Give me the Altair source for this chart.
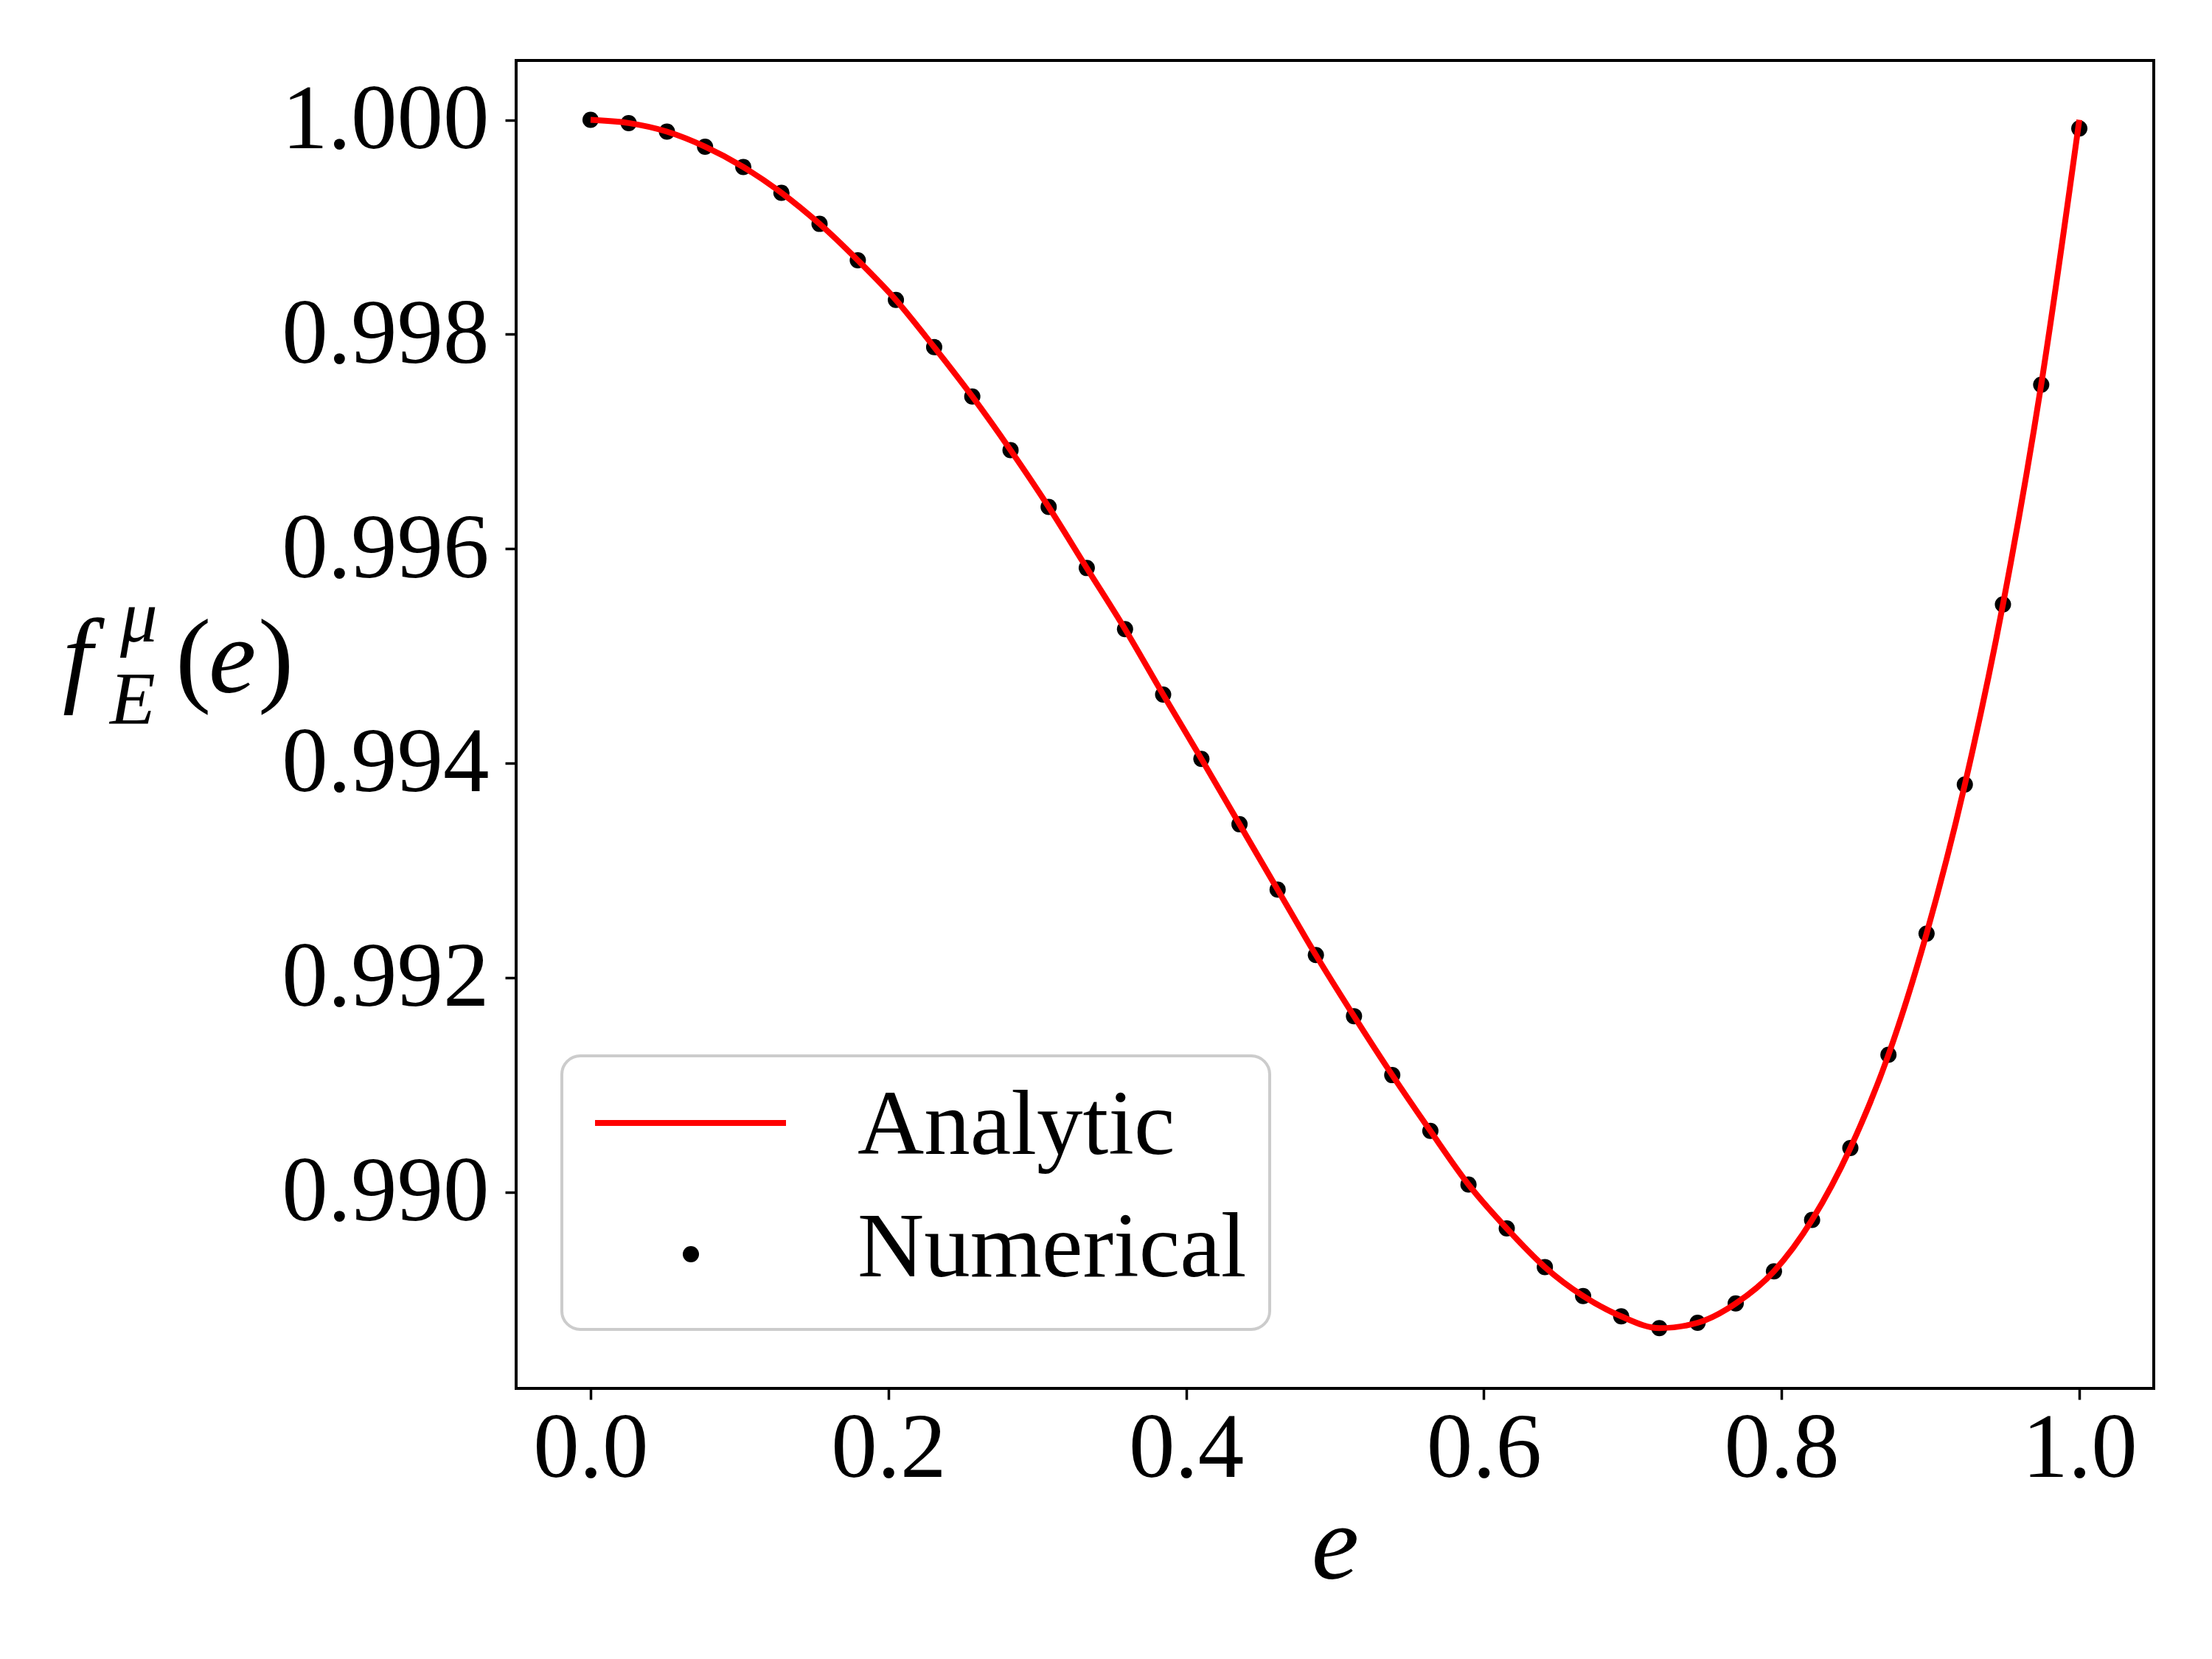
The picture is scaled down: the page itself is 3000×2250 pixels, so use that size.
import altair as alt
import pandas as pd

# ---- data ----
e_vals = [0.0000, 0.0256, 0.0513, 0.0769, 0.1026, 0.1282, 0.1538, 0.1795, 0.2051, 0.2308,
          0.2564, 0.2821, 0.3077, 0.3333, 0.3590, 0.3846, 0.4103, 0.4359, 0.4615, 0.4872,
          0.5128, 0.5385, 0.5641, 0.5897, 0.6154, 0.6410, 0.6667, 0.6923, 0.7179, 0.7436,
          0.7692, 0.7949, 0.8205, 0.8462, 0.8718, 0.8974, 0.9231, 0.9487, 0.9744, 1.0000]

numerical = [1.00000, 0.99997, 0.99989, 0.99975, 0.99956, 0.99932, 0.99903, 0.99869, 0.99832, 0.99788,
             0.99742, 0.99692, 0.99639, 0.99582, 0.99525, 0.99464, 0.99404, 0.99343, 0.99282, 0.99221,
             0.99164, 0.99109, 0.99057, 0.99007, 0.98966, 0.98930, 0.98903, 0.98884, 0.98873, 0.98878,
             0.98896, 0.98926, 0.98974, 0.99041, 0.99128, 0.99241, 0.99380, 0.99548, 0.99753, 0.99992]

analytic = [1.00000, 0.99997, 0.99989, 0.99975, 0.99956, 0.99932, 0.99903, 0.99869, 0.99832, 0.99788,
            0.99742, 0.99692, 0.99639, 0.99582, 0.99525, 0.99464, 0.99404, 0.99343, 0.99282, 0.99221,
            0.99164, 0.99109, 0.99057, 0.99007, 0.98966, 0.98930, 0.98903, 0.98884, 0.98873, 0.98878,
            0.98896, 0.98926, 0.98974, 0.99041, 0.99128, 0.99241, 0.99380, 0.99548, 0.99753, 1.00000]

x_ticks = [0.0, 0.2, 0.4, 0.6, 0.8, 1.0]
y_ticks = [0.990, 0.992, 0.994, 0.996, 0.998, 1.000]
legend_labels = ["Analytic", "Numerical"]

FONT = "Liberation Serif"
RED = "#ff0000"
DOT = 484
LW = 8

df = pd.DataFrame({"e": e_vals, "numerical": numerical, "analytic": analytic})
one = pd.DataFrame({"k": [0]})

x_enc = alt.X(
    "e:Q",
    scale=alt.Scale(domain=[-0.05, 1.05], nice=False, zero=False),
    axis=alt.Axis(
        values=x_ticks, format=".1f", title="e",
        titleFontStyle="italic", titleFontSize=145,
        titleY=257, titleBaseline="alphabetic",
        labelPadding=5, labelFlush=False, labelOverlap=False, labelLimit=0,
    ),
)
y_enc = alt.Y(
    "numerical:Q",
    scale=alt.Scale(domain=[0.988168, 1.000554], nice=False, zero=False),
    axis=alt.Axis(values=y_ticks, format=".3f", title=None,
                  labelPadding=22, labelFlush=False, labelOverlap=False, labelLimit=0),
)

points = alt.Chart(df).mark_circle(size=DOT, color="black", opacity=1).encode(x=x_enc, y=y_enc)
line = alt.Chart(df).mark_line(color=RED, strokeWidth=LW, interpolate="monotone").encode(
    x="e:Q", y="analytic:Q"
)

# ---- legend (drawn as annotation) ----
leg_box = alt.Chart(one).mark_rect(
    cornerRadius=25, fill="white", fillOpacity=0.8, stroke="#cccccc", strokeWidth=4
).encode(x=alt.value(62), x2=alt.value(1022), y=alt.value(1350), y2=alt.value(1721))
leg_line = alt.Chart(one).mark_rule(color=RED, strokeWidth=LW).encode(
    x=alt.value(107), x2=alt.value(366), y=alt.value(1441)
)
leg_dot = alt.Chart(one).mark_circle(size=DOT, color="black", opacity=1).encode(
    x=alt.value(237), y=alt.value(1619)
)
leg_t1 = alt.Chart(one).mark_text(
    text=legend_labels[0], font=FONT, fontSize=125, align="left", baseline="alphabetic", color="black"
).encode(x=alt.value(463), y=alt.value(1483))
leg_t2 = alt.Chart(one).mark_text(
    text=legend_labels[1], font=FONT, fontSize=125, align="left", baseline="alphabetic", color="black"
).encode(x=alt.value(463), y=alt.value(1649))

# ---- y-axis title  f_E^mu(e) built from pieces ----
pieces = [
    ("f", -615, 857, 145, "italic"),
    ("\u03bc", -537, 788, 101, "italic"),
    ("E", -551, 900, 101, "italic"),
    ("(", -462, 857, 145, "normal"),
    ("e", -417, 857, 145, "italic"),
    (")", -350, 857, 145, "normal"),
]
title_layers = []
for txt, px, py, fs, st in pieces:
    title_layers.append(
        alt.Chart(one).mark_text(
            text=txt, font=FONT, fontSize=fs, fontStyle=st, align="left",
            baseline="alphabetic", color="black"
        ).encode(x=alt.value(px), y=alt.value(py))
    )

chart = alt.layer(
    points, line, leg_box, leg_line, leg_dot, leg_t1, leg_t2, *title_layers
).properties(
    width=2221, height=1801,
    autosize=alt.AutoSizeParams(type="none"),
    padding={"left": 692, "top": 74, "right": 71, "bottom": 359},
    background="white",
).configure_view(
    stroke="black", strokeWidth=4
).configure_axis(
    labelFont=FONT, labelFontSize=125, labelColor="black",
    titleFont=FONT, titleColor="black", titleFontWeight="normal",
    tickColor="black", tickWidth=3.5, tickSize=15,
    grid=False, domain=False,
)

chart.save("out.html", embed_options={"renderer": "svg", "actions": False})
